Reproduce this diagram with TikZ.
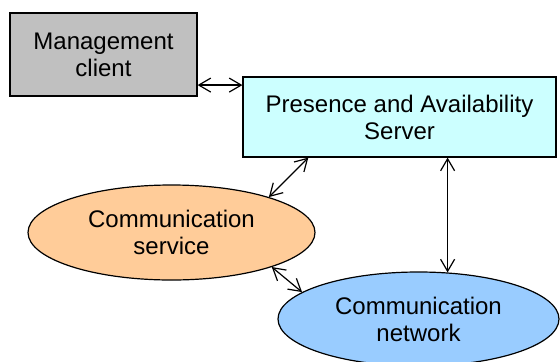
\documentclass[tikz,border=0pt]{standalone}
\usepackage{fontspec}
\setmainfont{Liberation Sans}
\usepackage{tikz}
\usetikzlibrary{positioning,arrows.meta,shapes.geometric}
\definecolor{mgmtgray}{HTML}{C0C0C0}
\definecolor{servercyan}{HTML}{CCFFFF}
\definecolor{serviceorange}{HTML}{FFCC99}
\definecolor{netblue}{HTML}{99CCFF}
\tikzset{
    block/.style = {
        draw,
        shape=rectangle,
        align=center,
        line width=0.9pt,
        font=\fontsize{18}{20.25}\selectfont
    },
    cloud/.style = {
        draw,
        shape=ellipse,
        align=center,
        line width=0.9pt,
        font=\fontsize{18}{20.25}\selectfont
    },
    link/.style = {
        draw,
        line width=0.9pt,
        <->
    },
    >={Straight Barb[length=9pt,width=10.5pt]},
}
\begin{document}
\begin{tikzpicture}[x=0.75pt, y=-0.75pt]
                \useasboundingbox (0,0) rectangle (560,361);

                \node[block, fill=mgmtgray, minimum width=140.25pt, minimum height=62.25pt]
                (mgmt) at (103.5,54.5) {Management\\client};
                \node[block, fill=servercyan, minimum width=234.75pt, minimum height=60pt]
                (srv) at (399.5,117) {Presence and Availability\\Server};
                \node[cloud, fill=serviceorange, minimum width=215.25pt, minimum height=71.25pt]
                (svc) at (171.5,232.5) {Communication\\service};
                \node[cloud, fill=netblue, minimum width=210.75pt, minimum height=70.5pt]
                (net) at (418.5,319) {Communication\\network};

                \path[link] (mgmt.342) -- (srv.west |- mgmt.342);
                \path[link] (srv.204) -- (svc.20);
                \path[link] (srv.south -| net.58) -- (net.58);
                \path[link] (svc.341) -- (net.167);
            \end{tikzpicture}
\end{document}
